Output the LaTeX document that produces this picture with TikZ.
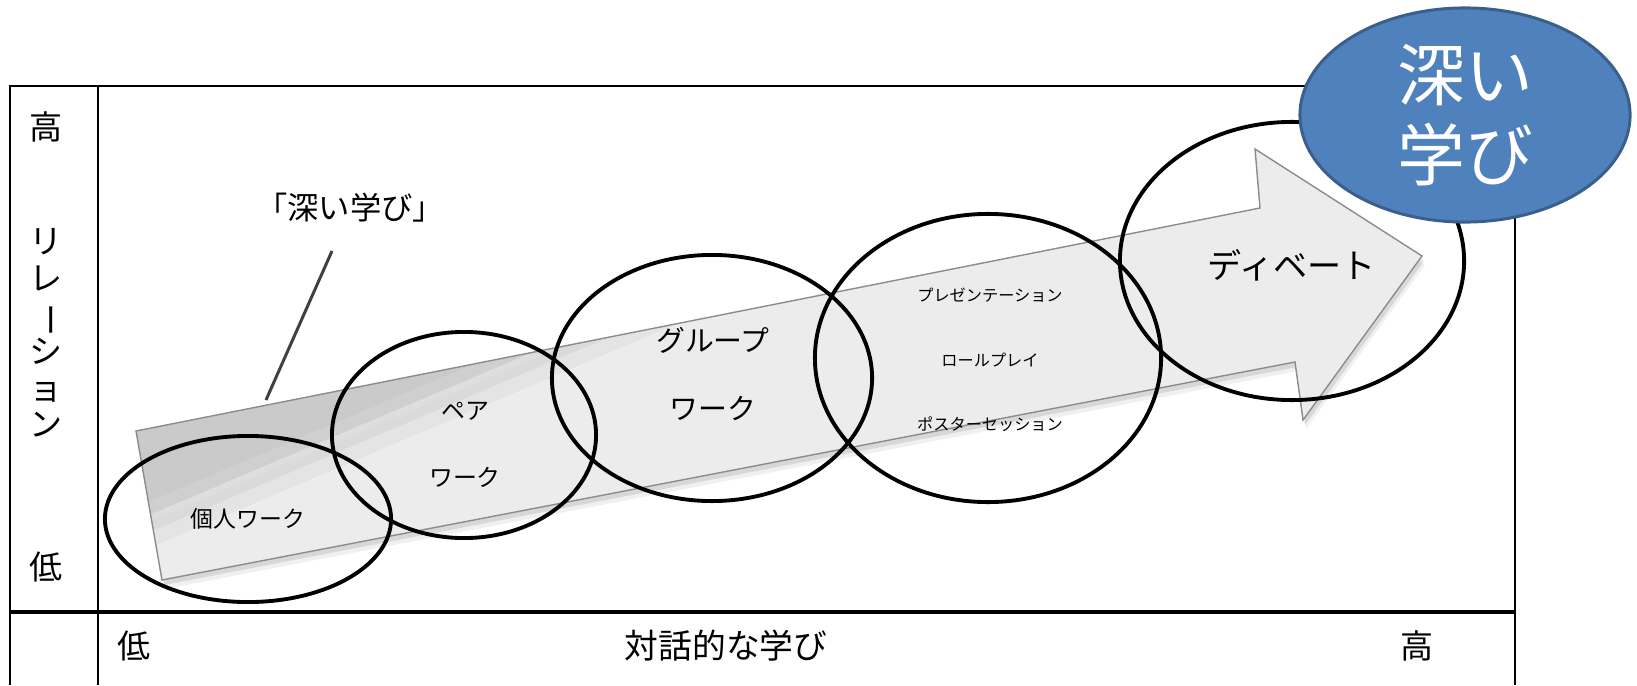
\documentclass[tikz,border=0pt]{standalone}
\usepackage{fontspec}
\setmainfont{Noto Sans CJK JP}
\usepackage{graphicx}
\usepackage{tikz}
\usetikzlibrary{shapes.geometric}

\definecolor{deepblue}{HTML}{4F81BD}
\definecolor{deepedge}{HTML}{3A5F8B}
\definecolor{arrowgray}{HTML}{ECECEC}
\definecolor{arrowedge}{HTML}{8C8C8C}
\definecolor{bandA}{HTML}{CACACA}
\definecolor{bandB}{HTML}{CFCFCF}
\definecolor{bandC}{HTML}{DEDEDE}
\definecolor{bandD}{HTML}{DADADA}
\definecolor{bandE}{HTML}{E4E4E4}
\definecolor{leadgray}{HTML}{404040}

\tikzset{
	ring/.style={ellipse, draw=black, line width=1.1pt, inner sep=0pt},
	lbl/.style={inner sep=0pt, font=\fontsize{9.4}{10.6}\selectfont},
	arrowshape/.style={insert path={(136,431) -- (1260,208) -- (1255,149) -- (1422,256) -- (1303,420) -- (1295,362) -- (162,580) -- cycle}},
}

\begin{document}
\begin{tikzpicture}[x=0.01cm, y=-0.01cm]
	\useasboundingbox (0,0) rectangle (1637,685);
	% table
	\draw[line width=0.6pt] (10,685) -- (10,86) -- (1515,86) -- (1515,685);
	\draw[line width=0.6pt] (98,86) -- (98,685);
	\draw[line width=0.9pt] (10,612) -- (1515,612);
	\node[lbl] (hiY) at (46,127) {高};
	\node[lbl, align=center, font=\fontsize{9.4}{10.4}\selectfont] (relY) at (46,333) {リ\\レ\\\rotatebox[origin=c]{-90}{ー}\\シ\\ョ\\ン};
	\node[lbl] (loY) at (46,567) {低};
	\node[lbl] (loX) at (134,646) {低};
	\node[lbl, font=\fontsize{9.6}{11}\selectfont] (axisX) at (726,646) {対話的な学び};
	\node[lbl] (hiX) at (1417,646) {高};
	% arrow with shadow
	\fill[black, opacity=.06, shift={(3,9)}, arrowshape];
	\fill[black, opacity=.10, shift={(2,5)}, arrowshape];
	\fill[arrowgray, arrowshape];
	\begin{scope}
		\clip[arrowshape];
		\begin{scope}[shift={(152,514)}, rotate=23]
			\fill[bandA] (-400,-900) rectangle (1600,-12);
			\fill[bandB] (-400,-12) rectangle (1600,0);
			\fill[bandC] (-400,0) rectangle (1600,6);
			\fill[bandD] (-400,6) rectangle (1600,16);
			\fill[bandE] (-400,16) rectangle (1600,30);
		\end{scope}
	\end{scope}
	\draw[arrowedge, line width=0.4pt, arrowshape];
	% label and leader
	\node[lbl, font=\fontsize{8.9}{10}\selectfont] (deepnote) at (350,208) {「深い学び」};
	\coordinate (leadA) at (332,251);
	\coordinate (leadB) at (266,400);
	\draw[leadgray, line width=0.85pt] (leadA) -- (leadB);
	% rings
	\node[ring, minimum width=2.86cm, minimum height=1.66cm] (soloRing) at (248,519) {};
	\node[ring, minimum width=2.64cm, minimum height=2.06cm] (pairRing) at (464,435) {};
	\node[ring, minimum width=3.20cm, minimum height=2.46cm] (groupRing) at (712,378) {};
	\node[ring, minimum width=3.46cm, minimum height=2.88cm] (presRing) at (988,358) {};
	\node[ring, minimum width=3.44cm, minimum height=2.78cm] (debRing) at (1292,261) {};
	% ring texts
	\node[lbl, font=\fontsize{6.5}{8}\selectfont] (solo) at (248,519) {個人ワーク};
	\node[lbl, align=center, font=\fontsize{6.8}{19.1}\selectfont] (pair) at (465,445) {ペア\\ワーク};
	\node[lbl, align=center, font=\fontsize{8.2}{19.1}\selectfont] (group) at (713,374) {グループ\\ワーク};
	\node[lbl, align=center, font=\fontsize{4.6}{18.35}\selectfont] (pres) at (990,360) {プレゼンテーション\\ロールプレイ\\ポスターセッション};
	\node[lbl, font=\fontsize{9.7}{11}\selectfont] (debate) at (1292,265) {ディベート};
	% goal
	\node[ellipse, fill=deepblue, draw=deepedge, line width=0.85pt, inner sep=0pt,
		minimum width=3.30cm, minimum height=2.14cm, text=white, align=center,
		font=\fontsize{19.3}{22.8}\selectfont] (goal) at (1465,115) {深い\\学び};
\end{tikzpicture}
\end{document}
